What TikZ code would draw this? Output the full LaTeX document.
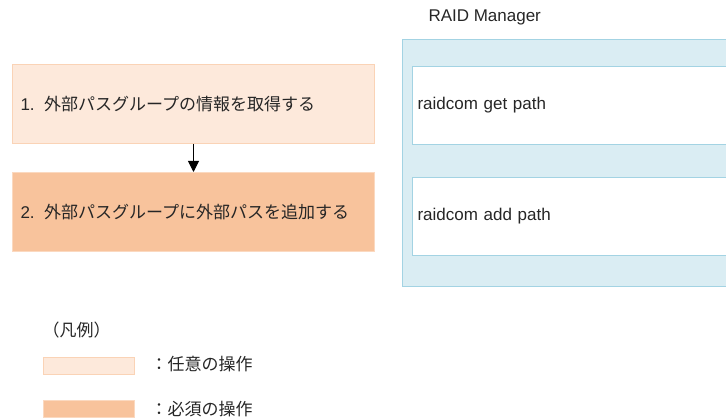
\documentclass[tikz,border=0pt]{standalone}
\usepackage{fontspec}
\setmainfont{Liberation Sans}
\newfontfamily\jp{Noto Sans CJK JP}
\usetikzlibrary{arrows.meta}
\definecolor{optfill}{HTML}{FDE9DB}
\definecolor{optline}{HTML}{FAD3B6}
\definecolor{reqfill}{HTML}{F8C39C}
\definecolor{reqline}{HTML}{FBD9C0}
\definecolor{raidfill}{HTML}{DAEDF3}
\definecolor{raidline}{HTML}{A3D3E3}
\begin{document}
\begin{tikzpicture}[x=1pt,y=-1pt,line width=1pt,inner ysep=0pt,
    every node/.style={font=\fontsize{17}{20}\selectfont,text=black!85},
    stepbox/.style={anchor=north west,minimum height=79pt,text width=346pt,inner xsep=8pt,align=left},
    optbox/.style={stepbox,fill=optfill,draw=optline},
    reqbox/.style={stepbox,fill=reqfill,draw=reqline},
    cmdbox/.style={anchor=north west,minimum height=78pt,text width=340pt,inner xsep=5pt,align=left,fill=white,draw=raidline},
    keybox/.style={anchor=north west,minimum width=91pt,minimum height=17pt,inner sep=0pt}]
    \useasboundingbox (0,0) rectangle (726,419);
    \clip (0,0) rectangle (726,419);
    \node[optbox] (s1) at (12,64) {1.\hspace{0.55em}{\jp 外部パスグループの情報を取得する}};
    \node[reqbox] (s2) at (12,172) {2.\hspace{0.55em}{\jp 外部パスグループに外部パスを追加する}};
    \draw[-{Triangle[length=11pt,width=11pt]}] (s1.south) -- (s2.north);
    \node[anchor=west,inner sep=0pt] (rmtitle) at (428,17) {RAID Manager};
    \node[anchor=north west,minimum width=360pt,minimum height=247pt,fill=raidfill,draw=raidline,inner sep=0pt] (rm) at (402,39) {};
    \node[cmdbox] (c1) at (412,66) {raidcom get path};
    \node[cmdbox] (c2) at (412,177) {raidcom add path};
    \node[anchor=west,inner sep=0pt] (legend) at (42,330) {\jp （凡例）};
    \node[keybox,fill=optfill,draw=optline] (k1) at (43,357) {};
    \node[keybox,fill=reqfill,draw=reqline] (k2) at (43,400) {};
    \node[anchor=west,inner sep=0pt] (t1) at (150,364) {\jp ：任意の操作};
    \node[anchor=west,inner sep=0pt] (t2) at (150,409) {\jp ：必須の操作};
\end{tikzpicture}
\end{document}
